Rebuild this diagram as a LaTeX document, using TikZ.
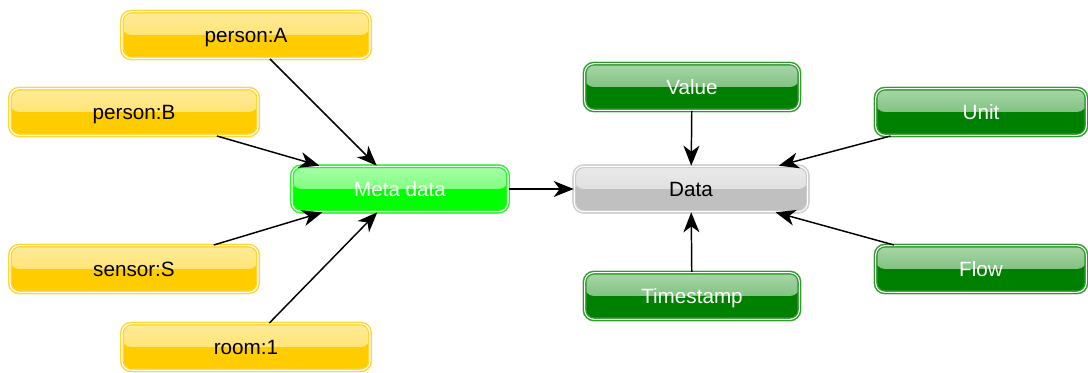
\documentclass[tikz,border=0pt]{standalone}
\usepackage{fontspec}
\setmainfont{Liberation Sans}
\usetikzlibrary{arrows.meta}

\definecolor{ybase}{HTML}{FFCC00}
\definecolor{ytop}{HTML}{FFEB99}
\definecolor{yline}{HTML}{FFD633}
\definecolor{gbase}{HTML}{008000}
\definecolor{gtop}{HTML}{A8D6A8}
\definecolor{gline}{HTML}{2E9A2E}
\definecolor{lbase}{HTML}{00FF00}
\definecolor{ltop}{HTML}{A6FFA6}
\definecolor{lline}{HTML}{33EE33}
\definecolor{sbase}{HTML}{C0C0C0}
\definecolor{stop}{HTML}{EAEAEA}
\definecolor{sline}{HTML}{CCCCCC}

\tikzset{
  glossbox/.style n args={3}{rounded corners=7pt, fill=#1, draw=#3,
    double=white, double distance=0.8pt, line width=1pt,
    preaction={draw=#3!45!white, line width=3.2pt},
    inner sep=0pt, minimum height=35pt, text height=15pt, text depth=3pt,
    font=\fontsize{15.5}{18}\selectfont,
    path picture={\shade[top color=#2, bottom color=#2!55!#1]
      (path picture bounding box.north west) rectangle (path picture bounding box.east);}},
  tagbox/.style={glossbox={ybase}{ytop}{yline}, minimum width=186pt, text=black},
  fieldbox/.style={glossbox={gbase}{gtop}{gline}, text=white},
  metabox/.style={glossbox={lbase}{ltop}{lline}, minimum width=162pt, minimum height=34pt, text=white},
  databox/.style={glossbox={sbase}{stop}{sline}, minimum width=175pt, minimum height=34pt, text=black},
  link/.style={-{Stealth[length=15pt,width=12pt,inset=4.5pt]}, line width=1.1pt}
}

\begin{document}
\begin{tikzpicture}[x=0.75pt, y=-0.75pt]
   \useasboundingbox (0,0) rectangle (1088,373);

   % tags of the meta data
   \node[tagbox] (personA) at (246, 35) {person:A};
   \node[tagbox] (personB) at (134, 112) {person:B};
   \node[tagbox] (sensorS) at (134, 269) {sensor:S};
   \node[tagbox] (room1) at (246, 347) {room:1};

   \node[metabox] (meta) at (400, 189) {Meta data};
   \node[databox] (data) at (691, 189) {Data};

   % fields of the data
   \node[fieldbox, minimum width=161pt] (value) at (692, 87) {Value};
   \node[fieldbox, minimum width=161pt] (stamp) at (692, 296) {Timestamp};
   \node[fieldbox, minimum width=158pt] (unit) at (981, 112) {Unit};
   \node[fieldbox, minimum width=158pt] (flow) at (981, 269) {Flow};

   \draw[link] (personA) -- (meta);
   \draw[link] (personB) -- (meta);
   \draw[link] (sensorS) -- (meta);
   \draw[link] (room1) -- (meta);
   \draw[link] (meta) -- (data);
   \draw[link] (value) -- (data);
   \draw[link] (stamp) -- (data);
   \draw[link] (unit) -- (data);
   \draw[link] (flow) -- (data);
\end{tikzpicture}
\end{document}
